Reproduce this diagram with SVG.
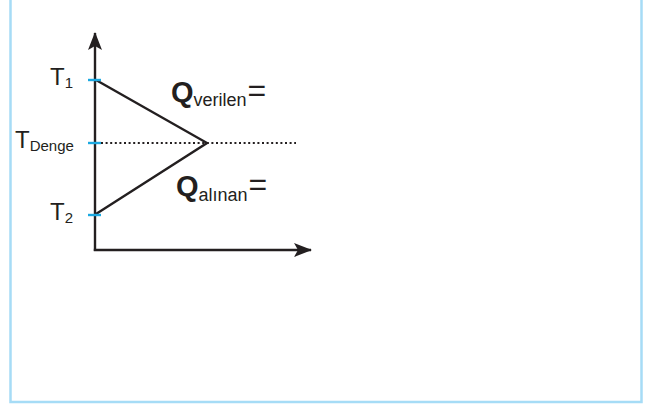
<svg xmlns="http://www.w3.org/2000/svg" width="650" height="408" viewBox="0 0 650 408">
  <defs>
    <style>
      .frame { fill: none; stroke: #a6dcf6; stroke-width: 2.5; }
      .axis { stroke: #231f20; stroke-width: 2.4; fill: none; }
      .edge { stroke: #231f20; stroke-width: 2.4; fill: none; }
      .dots { stroke: #231f20; stroke-width: 2; stroke-dasharray: 2 2.6; fill: none; }
      .tick { stroke: #1ba9e1; stroke-width: 2.4; }
      .lbl { font-family: "Liberation Sans", Arial, sans-serif; fill: #231f20; }
      .big { font-size: 24px; }
      .sub { font-size: 15px; }
      .q { font-size: 29px; font-weight: bold; }
      .qs { font-size: 18px; }
      .eq { font-size: 32px; }
    </style>
    <marker id="arrowL" markerWidth="18" markerHeight="14" refX="17" refY="7" orient="auto" markerUnits="userSpaceOnUse" viewBox="0 0 18 14">
      <path d="M0,0 L18,7 L0,14 L4,7 Z" fill="#231f20"/>
    </marker>
  </defs>

  <!-- outer frame, open at the top -->
  <path class="frame" d="M10.5,0 V402 H641.5 V0"/>

  <!-- axes -->
  <g id="axes">
    <path class="axis" d="M95,251 V33" marker-end="url(#arrowL)"/>
    <path class="axis" d="M93.8,250 H311" marker-end="url(#arrowL)"/>
  </g>

  <!-- temperature curves and equilibrium line -->
  <g id="connectors">
    <path class="edge" d="M96,80 L207,143 L96,214"/>
    <path class="dots" d="M101,143 H296"/>
  </g>

  <!-- temperature ticks on the vertical axis -->
  <g id="ticks">
    <line class="tick" x1="88" y1="80" x2="101" y2="80"/>
    <line class="tick" x1="88" y1="143" x2="101" y2="143"/>
    <line class="tick" x1="88" y1="215" x2="101" y2="215"/>
  </g>

  <g id="label-t1">
    <text class="lbl" x="50" y="85"><tspan class="big">T</tspan><tspan class="sub" dy="3">1</tspan></text>
  </g>
  <g id="label-tdenge">
    <text class="lbl" x="15" y="148"><tspan class="big">T</tspan><tspan class="sub" dy="3">Denge</tspan></text>
  </g>
  <g id="label-t2">
    <text class="lbl" x="50" y="220"><tspan class="big">T</tspan><tspan class="sub" dy="3">2</tspan></text>
  </g>

  <g id="label-qverilen">
    <text class="lbl" x="171" y="102"><tspan class="q">Q</tspan><tspan class="qs" dy="4">verilen</tspan><tspan class="eq" dy="-5" dx="1">=</tspan></text>
  </g>
  <g id="label-qalinan">
    <text class="lbl" x="176" y="196"><tspan class="q">Q</tspan><tspan class="qs" dy="5">alınan</tspan><tspan class="eq" dy="-6" dx="1">=</tspan></text>
  </g>
</svg>
